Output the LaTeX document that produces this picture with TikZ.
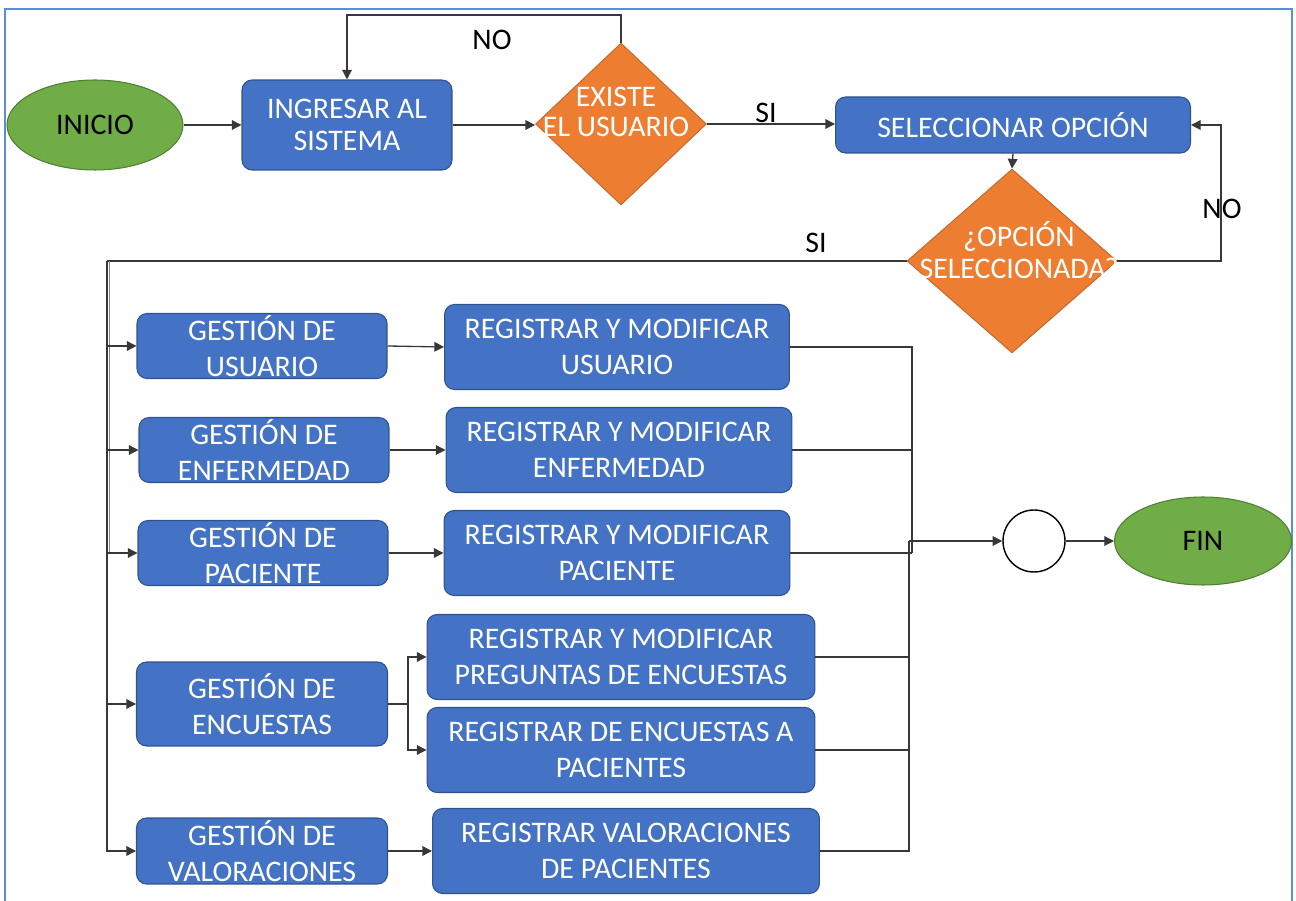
\documentclass[tikz,border=0pt]{standalone}
\usepackage{fontspec}
\setmainfont{Carlito}
\usetikzlibrary{shapes.geometric,arrows.meta,calc}

\definecolor{boxblue}{HTML}{4472C4}
\definecolor{boxedge}{HTML}{2F528F}
\definecolor{diaorange}{HTML}{ED7D31}
\definecolor{diaedge}{HTML}{C0652A}
\definecolor{termgreen}{HTML}{70AD47}
\definecolor{termedge}{HTML}{507E32}
\definecolor{framecol}{HTML}{5B8FD5}
\definecolor{linecol}{HTML}{383838}

\newcommand\boxfont{\fontsize{17}{20.4}\selectfont}
\newcommand\tightfont{\fontsize{17}{18.2}\selectfont}
\newcommand\existefont{\fontsize{17}{17.2}\selectfont}
\newcommand\labfont{\fontsize{17}{19}\selectfont}

\tikzset{
  box/.style={rectangle, rounded corners=0.2cm, draw=boxedge, fill=boxblue,
    line width=0.6pt, text=white, align=center, font=\boxfont, inner sep=0pt},
  dia/.style={diamond, draw=diaedge, fill=diaorange, line width=0.5pt, inner sep=0pt},
  dtext/.style={text=white, align=center, font=\tightfont, inner sep=0pt},
  term/.style={ellipse, draw=termedge, fill=termgreen, line width=0.6pt,
    text=black, font=\boxfont, inner sep=0pt},
  junction/.style={circle, draw=black, fill=white, line width=0.8pt, inner sep=0pt},
  conn/.style={draw=linecol, line width=0.75pt},
  arr/.style={conn, -{Triangle[length=5.5pt,width=5.5pt]}},
  lab/.style={font=\labfont, text=black, inner sep=0pt},
  framebox/.style={draw=framecol, line width=1.4pt}
}

\begin{document}
\begin{tikzpicture}[x=0.02cm, y=-0.02cm]
\useasboundingbox (0,0) rectangle (1296,901);

% page frame
\draw[framebox] (5,905) -- (5,9) -- (1292,9) -- (1292,905);

% top row
\node[term, minimum width=3.52cm, minimum height=1.8cm] (inicio) at (95,125) {INICIO};
\node[box, font=\tightfont, minimum width=4.2cm, minimum height=1.8cm] (ingresar) at (347,125) {INGRESAR AL\\SISTEMA};
\node[dia, minimum width=3.42cm, minimum height=3.24cm] (d1) at (621,124) {};
\node[dtext, font=\existefont] (d1t) at (616,112) {EXISTE\\EL USUARIO};
\node[box, minimum width=7.1cm, minimum height=1.12cm] (selec) at (1013,125) {SELECCIONAR OPCIÓN};
\node[dia, minimum width=4.2cm, minimum height=3.68cm] (d2) at (1012,261) {};
\node[dtext] (d2t) at (1019,250) {¿OPCIÓN\\SELECCIONADA?};

% management boxes
\node[box, minimum width=5cm, minimum height=1.3cm] (g1) at (262,346) {GESTIÓN DE\\USUARIO};
\node[box, minimum width=5cm, minimum height=1.3cm] (g2) at (264,450) {GESTIÓN DE\\ENFERMEDAD};
\node[box, minimum width=5cm, minimum height=1.3cm] (g3) at (263,553) {GESTIÓN DE\\PACIENTE};
\node[box, minimum width=5.02cm, minimum height=1.68cm] (g4) at (262,704) {GESTIÓN DE\\ENCUESTAS};
\node[box, minimum width=5.02cm, minimum height=1.32cm] (g5) at (262,851) {GESTIÓN DE\\VALORACIONES};

% registration boxes
\node[box, minimum width=6.9cm, minimum height=1.7cm] (r1) at (617,347) {REGISTRAR Y MODIFICAR\\USUARIO};
\node[box, minimum width=6.92cm, minimum height=1.7cm] (r2) at (619,450) {REGISTRAR Y MODIFICAR\\ENFERMEDAD};
\node[box, minimum width=6.92cm, minimum height=1.7cm] (r3) at (617,553) {REGISTRAR Y MODIFICAR\\PACIENTE};
\node[box, minimum width=7.76cm, minimum height=1.7cm] (r4) at (621,657) {REGISTRAR Y MODIFICAR\\PREGUNTAS DE ENCUESTAS};
\node[box, minimum width=7.76cm, minimum height=1.7cm] (r5) at (621,750) {REGISTRAR DE ENCUESTAS A\\PACIENTES};
\node[box, minimum width=7.74cm, minimum height=1.7cm] (r6) at (626,851) {REGISTRAR VALORACIONES\\DE PACIENTES};

% end
\node[junction, minimum width=1.24cm, minimum height=1.16cm] (circ) at (1034,541) {};
\node[term, minimum width=3.54cm, minimum height=1.76cm] (fin) at (1203,541) {FIN};

% labels
\node[lab] (lno1) at (492,40) {NO};
\node[lab] (lsi1) at (766,113) {SI};
\node[lab] (lno2) at (1222,209) {NO};
\node[lab] (lsi2) at (816,243) {SI};

% helper coordinates
\coordinate (toploop) at (0,15);
\coordinate (noback) at (1221,0);
\coordinate (trunk) at (107,261);
\coordinate (trunkb) at (109.5,261);
\coordinate (split) at (408,704);
\coordinate (mA) at (912,0);
\coordinate (mB) at (909,0);

% top connectors
\draw[arr] (inicio.east) -- (ingresar.west);
\draw[arr] (ingresar.east) -- (d1.west |- ingresar.east);
\draw[arr] (d1.north) -- (d1.north |- toploop) -| (ingresar.north);
\draw[arr] (d1.east) -- (selec.west |- d1.east);
\draw[arr] (selec.south) -- (d2.north);
\draw[arr] (d2.east) -| (noback |- selec.east) -- (selec.east);

% branch trunk
\draw[conn] (d2.west) -- (trunk);
\draw[arr] (trunk) |- (g5.west);
\draw[conn, draw=gray] (trunkb) -- (trunkb |- g3.west);
\draw[arr] (trunk |- g1.west) -- (g1.west);
\draw[arr] (trunk |- g2.west) -- (g2.west);
\draw[arr] (trunk |- g3.west) -- (g3.west);
\draw[arr] (trunk |- g4.west) -- (g4.west);

% management to registration
\draw[arr] (g1.east) -- (r1.west);
\draw[arr] (g2.east) -- (r2.west);
\draw[arr] (g3.east) -- (r3.west);
\draw[conn] (g4.east) -- (split);
\draw[arr] (split) |- (r4.west);
\draw[arr] (split) |- (r5.west);
\draw[arr] (g5.east) -- (r6.west);

% merge towards the end
\draw[conn] (r1.east) -- (r1.east -| mA) -- (r3.east -| mA);
\draw[conn] (r2.east) -- (r2.east -| mA);
\draw[conn] (r3.east) -- (r3.east -| mA);
\draw[conn] (r4.east) -- (r4.east -| mB);
\draw[conn] (r5.east) -- (r5.east -| mB);
\draw[conn] (r6.east) -- (r6.east -| mB) -- (mB |- circ.west);
\draw[arr] (mB |- circ.west) -- (circ.west);
\draw[arr] (circ.east) -- (fin.west);
\end{tikzpicture}
\end{document}
